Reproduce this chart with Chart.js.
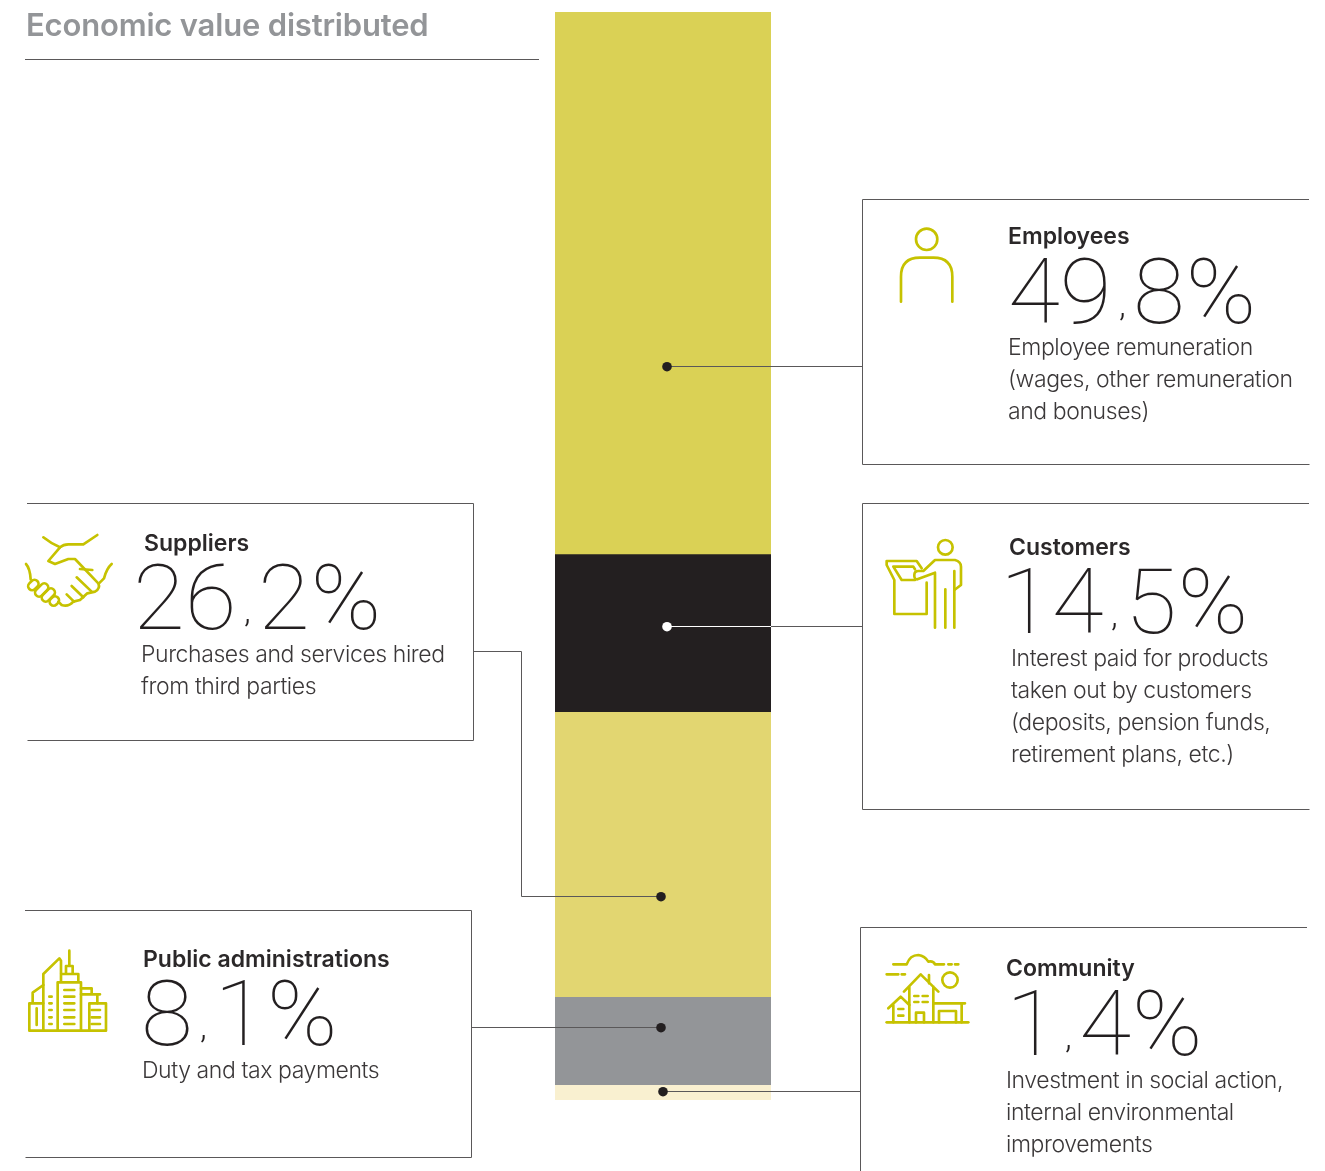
<!DOCTYPE html>
<html lang="en">
<head>
<meta charset="utf-8">
<title>Economic value distributed</title>
<script src="https://cdn.jsdelivr.net/npm/chart.js@4"></script>
<style>
  html, body { margin: 0; padding: 0; background: #fff; }
  #page { position: relative; width: 1325px; height: 1171px; overflow: hidden; font-family: "Inter", "Liberation Sans", sans-serif; color: #3b3839; }
  #chart, #icons { position: absolute; left: 0; top: 0; }
  #icons { pointer-events: none; }
  #icons * { fill: none; stroke: #c6c200; stroke-width: 8; stroke-linecap: round; stroke-linejoin: round; }
  h1 { position: absolute; left: 26px; top: 6px; margin: 0; font-size: 31px; line-height: 38px; font-weight: 600; color: #939598; white-space: nowrap; letter-spacing: -0.18px; }
  .label { position: absolute; white-space: nowrap; }
  .name { position: absolute; font-size: 23px; line-height: 28px; font-weight: 600; color: #2b2829; letter-spacing: 0; }
  .value { position: absolute; font-family: "Roboto", "Inter", sans-serif; font-size: 91px; line-height: 90px; font-weight: 100; color: #231f20; transform: scaleX(1.04); transform-origin: left top; }
  .value .comma { font-size: 34px; font-weight: 300; position: relative; top: -7px; margin: 0 7px; }
  .value .percent { margin-left: 1px; }
  .detail { position: absolute; font-size: 23px; line-height: 32px; font-weight: 300; color: #3b3839; letter-spacing: -0.42px; }
</style>
</head>
<body>
<div id="page">
  <canvas id="chart" width="1325" height="1171"></canvas>
  <svg id="icons" width="1325" height="1171" viewBox="0 0 1325 1171">
    <!-- persona -->
    <g transform="translate(860 195) scale(.3333)">
      <circle cx="200" cy="133" r="32"/>
      <path d="M123 320V245Q123 188 180 188H220Q277 188 277 245V320"/>
    </g>
    <!-- quiosco -->
    <g transform="translate(860 500) scale(.3333)">
      <circle cx="256" cy="142" r="22"/>
      <path d="M225 383V218L172 238Q162 238 163 225Q163 213 175 213H190L225 180H285Q303 185 303 200V255L283 270"/>
      <path d="M283 213V383M256 268V383"/>
      <path d="M185 205L170 183H80V195L103 240V342H200V248"/>
      <path d="M165 208L160 200H100L125 240H165"/>
    </g>
    <!-- apreton de manos -->
    <g transform="translate(0 500) scale(.3333)">
      <path d="M130 112Q155 132 180 142Q190 133 205 133H250L292 105"/>
      <path d="M180 142L145 183L165 192L205 177H225L295 250Q302 265 285 275L262 280L240 300L220 305Q205 322 185 315L175 305"/>
      <path d="M240 207L277 210M230 232L275 275M215 258L250 292M200 283L222 305"/>
      <path d="M335 192Q320 205 312 235L297 250M78 192Q90 205 92 238"/>
      <rect x="83" y="243" width="34" height="24" rx="12" transform="rotate(-45 100 255)"/>
      <rect x="102" y="258" width="46" height="24" rx="12" transform="rotate(-45 125 270)"/>
      <rect x="122" y="273" width="46" height="24" rx="12" transform="rotate(-45 145 285)"/>
      <rect x="148" y="291" width="30" height="24" rx="12" transform="rotate(-45 163 303)"/>
    </g>
    <!-- edificios -->
    <g transform="translate(10 930) scale(.3333)">
      <path d="M58 302H288V220H238V302M58 302V220H100M80 235V285M68 220V188L100 165"/>
      <path d="M100 302V132L148 85L153 92V130"/>
      <path d="M143 302V157H213V302M153 157V132H205V157M168 132V108H188V132M178 108V62"/>
      <path d="M213 175H245V193M213 193H270M262 193V220"/>
      <path d="M163 180H193M163 200H193M163 220H193M163 240H193M163 262H193M163 282H193"/>
      <path d="M245 240H270M245 262H270M245 282H270"/>
      <path d="M118 200H125M118 220H125M118 240H125M118 262H125M118 282H125"/>
    </g>
    <!-- casas -->
    <g transform="translate(860 930) scale(.3333)">
      <path d="M100 103H140Q150 75 175 75Q195 78 205 95Q220 92 225 103H252M265 103H275M285 103H295"/>
      <path d="M80 133H115M125 133H135"/>
      <circle cx="270" cy="150" r="23"/>
      <path d="M80 277H325"/>
      <path d="M132 185L182 133L235 185M207 135V160M148 170V277M220 170V277"/>
      <path d="M85 235L122 200L148 225M100 225V277M115 237H130M115 257H130"/>
      <path d="M163 198H175M188 198H203M163 216H175M188 216H203"/>
      <path d="M168 277V248H192V277"/>
      <path d="M220 220H315M305 220V277M237 277V243H288V277"/>
    </g>
  </svg>
  <h1>Economic value distributed</h1>
</div>
<script>
// Datos del reparto
const stakeholders = ['Employees', 'Customers', 'Suppliers', 'Public administrations', 'Community'];
const shares = [49.8, 14.5, 26.2, 8.1, 1.4];
const barColors = ['#dad155', '#231f20', '#e2d671', '#939598', '#f9f0d0'];
const details = [
    ['Employee remuneration', '(wages, other remuneration', 'and bonuses)'],
    ['Interest paid for products', 'taken out by customers', '(deposits, pension funds,', 'retirement plans, etc.)'],
    ['Purchases and services hired', 'from third parties'],
    ['Duty and tax payments'],
    ['Investment in social action,', 'internal environmental', 'improvements']
];

// Punto de cada conector, en porcentaje acumulado de la barra
const leaderValues = [32.63, 56.5, 81.3, 93.4, 99.3];

// Colocacion de los textos de cada ficha
const textLayout = [
    { x: 1008, nameY: 222, valueX: 1008, valueY: 247, detailX: 1008, detailY: 331 },
    { x: 1009, nameY: 533, valueX: 1000, valueY: 557, detailX: 1011, detailY: 642 },
    { x: 144, nameY: 529, valueX: 133, valueY: 553, detailX: 141, detailY: 638 },
    { x: 143, nameY: 945, valueX: 141, valueY: 969, detailX: 142, detailY: 1054 },
    { x: 1006, nameY: 954, valueX: 1006, valueY: 979, detailX: 1006, detailY: 1064 }
];

// Marcos de las fichas
const boxes = [
    [[1309, 199], [862, 199], [862, 464], [1309, 464]],
    [[1309, 503], [862, 503], [862, 809], [1309, 809]],
    [[27, 503], [473, 503], [473, 740], [27, 740]],
    [[25, 910], [471, 910], [471, 1157], [25, 1157]],
    [[1307, 927], [860, 927], [860, 1171]]
];

// Recorrido de los conectores desde la barra hasta su ficha
const leaders = [
    { dotX: 667, route: [[862, null]] },
    { dotX: 667, route: [[862, null]], dot: '#ffffff' },
    { dotX: 661, route: [[521, null], [521, 651], [473, 651]] },
    { dotX: 661, route: [[471, null]] },
    { dotX: 663, route: [[860, null]] }
];

const annotations = {
    id: 'annotations',
    afterDatasetsDraw(chart) {
        const ctx = chart.ctx;
        const yScale = chart.scales.y;
        const barRight = chart.chartArea.right;

        ctx.save();
        ctx.lineWidth = 1;
        ctx.strokeStyle = '#5a5859';

        // Titulo subrayado
        ctx.beginPath();
        ctx.moveTo(25, 59.5);
        ctx.lineTo(539, 59.5);
        ctx.stroke();

        boxes.forEach(points => {
            ctx.beginPath();
            points.forEach(([x, y], i) => {
                if (i === 0) ctx.moveTo(x, y + 0.5);
                else ctx.lineTo(x + 0.5, y + 0.5);
            });
            ctx.stroke();
        });

        leaders.forEach((leader, i) => {
            const y = Math.round(yScale.getPixelForValue(leaderValues[i])) - 0.5;
            ctx.beginPath();
            ctx.moveTo(leader.dotX, y);
            leader.route.forEach(([x, routeY]) => ctx.lineTo(x + 0.5, routeY === null ? y : routeY + 0.5));
            ctx.strokeStyle = '#5a5859';
            ctx.stroke();

            // El tramo sobre el negro va en blanco
            if (leader.dot) {
                ctx.beginPath();
                ctx.moveTo(leader.dotX, y);
                ctx.lineTo(barRight, y);
                ctx.strokeStyle = leader.dot;
                ctx.stroke();
            }

            ctx.beginPath();
            ctx.arc(leader.dotX, y + 0.2, 4.8, 0, Math.PI * 2);
            ctx.fillStyle = leader.dot || '#231f20';
            ctx.fill();
        });
        ctx.restore();
    }
};

new Chart(document.getElementById('chart'), {
    type: 'bar',
    data: {
        labels: ['Economic value distributed'],
        datasets: stakeholders.map((name, i) => ({
            label: name,
            data: [shares[i]],
            backgroundColor: barColors[i],
            borderWidth: 0,
            barPercentage: 1,
            categoryPercentage: 1
        }))
    },
    options: {
        responsive: false,
        animation: false,
        layout: { padding: { left: 555, right: 554, top: 12, bottom: 71 } },
        plugins: { legend: { display: false }, tooltip: { enabled: false } },
        scales: {
            x: { stacked: true, display: false },
            y: { stacked: true, display: false, reverse: true, min: 0, max: 100 }
        }
    },
    plugins: [annotations]
});

// Textos de las fichas
const page = document.getElementById('page');

function addText(className, x, y, html) {
    const el = document.createElement('div');
    el.className = 'label ' + className;
    el.style.left = x + 'px';
    el.style.top = y + 'px';
    el.innerHTML = html;
    page.appendChild(el);
}

stakeholders.forEach((name, i) => {
    const pos = textLayout[i];
    const [whole, decimal] = shares[i].toFixed(1).split('.');
    addText('name', pos.x, pos.nameY, name);
    addText('value', pos.valueX, pos.valueY, `${whole}<span class="comma">,</span>${decimal}<span class="percent">%</span>`);
    addText('detail', pos.detailX, pos.detailY, details[i].join('<br>'));
});
</script>
</body>
</html>
